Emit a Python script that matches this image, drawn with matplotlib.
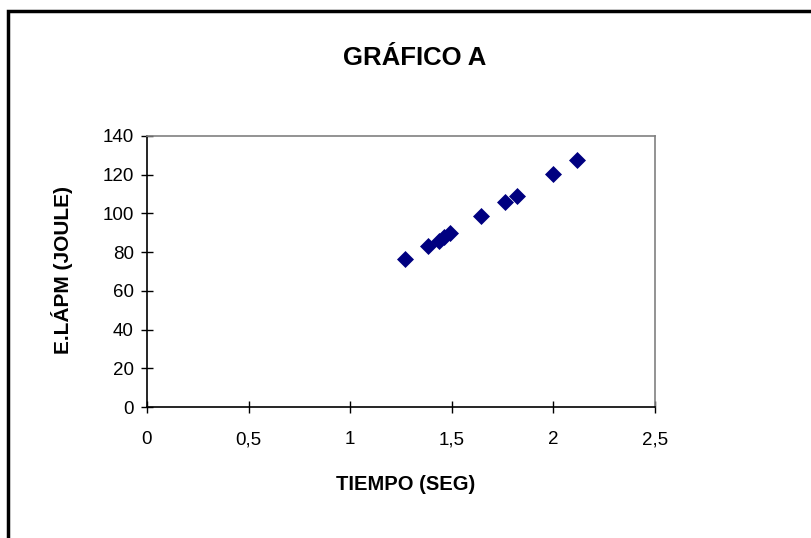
import matplotlib
matplotlib.use("Agg")
import matplotlib.pyplot as plt
from matplotlib.patches import Rectangle

plt.rcParams['font.family'] = ['Liberation Sans', 'DejaVu Sans']

tiempo = [1.27, 1.385, 1.435, 1.46, 1.49, 1.645, 1.76, 1.82, 2.0, 2.115]
energia = [76.2, 83.3, 86.0, 87.6, 89.8, 98.8, 106.0, 109.1, 120.3, 127.6]

xticks = [0, 0.5, 1, 1.5, 2, 2.5]
xticklabels = ["0", "0,5", "1", "1,5", "2", "2,5"]
yticks = [0, 20, 40, 60, 80, 100, 120, 140]

W, H = 812, 538
fig = plt.figure(figsize=(W / 100, H / 100), dpi=100)
fig.patch.set_facecolor('white')

# outer chart border (extends beyond right/bottom edges)
fig.patches.append(Rectangle((8 / W, -0.1), 1.2, 1 - 11 / H + 0.1,
                             transform=fig.transFigure, fill=False,
                             edgecolor='black', linewidth=2.5))

ax = fig.add_axes([147 / W, 1 - 407 / H, (655 - 147) / W, (407 - 136) / H])
ax.scatter(tiempo, energia, marker='D', s=75, color='#000080', zorder=3,
           linewidths=0)

ax.set_xlim(0, 2.5)
ax.set_ylim(0, 140)
ax.set_xticks(xticks)
ax.set_xticklabels(xticklabels)
ax.set_yticks(yticks)
ax.tick_params(direction='inout', length=9, width=1, labelsize=13.5,
               colors='black')
ax.tick_params(axis='x', pad=13)
ax.tick_params(axis='y', pad=5)

for s in ['left', 'bottom']:
    ax.spines[s].set_color('black')
    ax.spines[s].set_linewidth(1.2)
for s in ['top', 'right']:
    ax.spines[s].set_color('#808080')
    ax.spines[s].set_linewidth(1.2)

fig.text(415 / W, 1 - 58 / H, "GRÁFICO A", ha='center', va='center',
         fontsize=18.5, fontweight='bold')
fig.text(406 / W, 1 - 485 / H, "TIEMPO (SEG)", ha='center', va='center',
         fontsize=14.5, fontweight='bold')
fig.text(62 / W, 1 - 270 / H, "E.LÁPM (JOULE)", ha='center', va='center',
         fontsize=15, fontweight='bold', rotation=90)

fig.savefig("out.png", dpi=100)
